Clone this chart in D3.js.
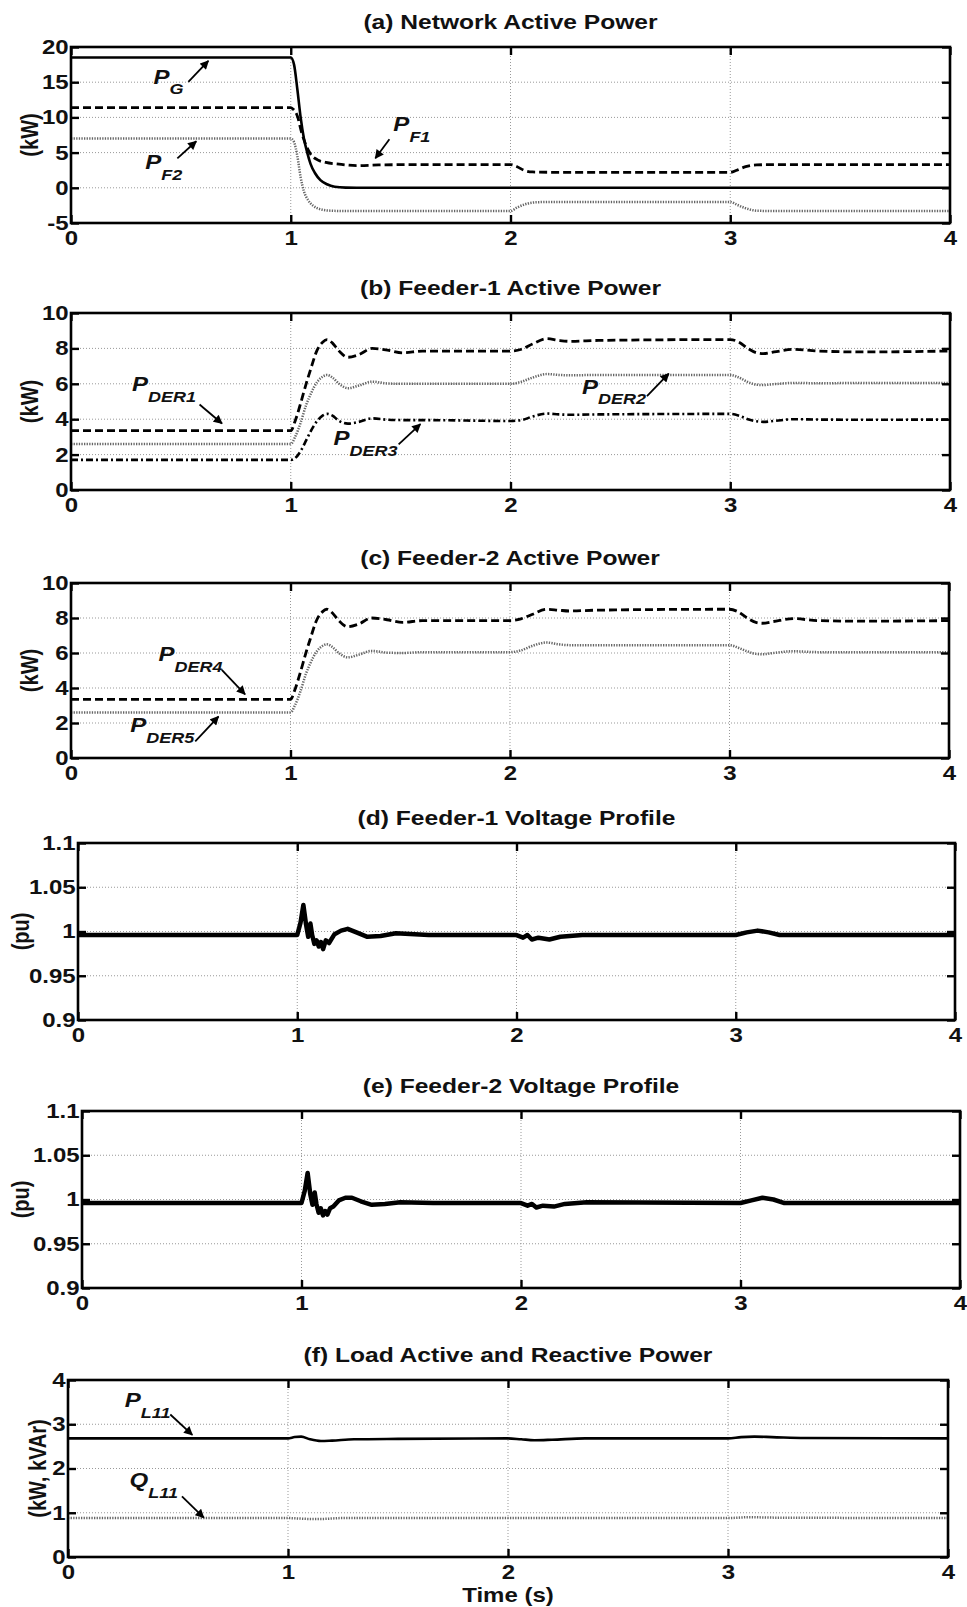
<!DOCTYPE html>
<html>
<head>
<meta charset="utf-8">
<script src="https://cdn.jsdelivr.net/npm/d3@7"></script>
<style>
  body { margin: 0; background: #fff; }
  svg { display: block; }
  text { font-family: "Liberation Sans", Arial, sans-serif; font-weight: bold; fill: #111; }
</style>
</head>
<body>
<div id="chart"></div>
<script>
// ---- values ------------------------------------------------------------
var xTicks = [0, 1, 2, 3, 4];

// (a) network active power
var tPG  = [0, 1.0, 1.015, 1.03, 1.045, 1.06, 1.075, 1.09, 1.11, 1.135, 1.165, 1.2, 1.25, 1.3, 2, 3, 4];
var vPG  = [18.5, 18.5, 17.5, 14, 10, 7, 5, 3.4, 2.1, 1.1, 0.5, 0.15, 0.02, 0, 0, 0, 0];
var tPF1 = [0, 1.0, 1.01, 1.03, 1.05, 1.07, 1.09, 1.12, 1.16, 1.22, 1.3, 1.4, 1.6, 2.0, 2.03, 2.06, 2.1, 2.2, 3.0, 3.03, 3.07, 3.12, 3.2, 4];
var vPF1 = [11.4, 11.4, 11.2, 10.2, 7.8, 6.0, 4.8, 4.0, 3.6, 3.35, 3.15, 3.25, 3.3, 3.3, 3.0, 2.5, 2.25, 2.2, 2.2, 2.5, 3.0, 3.25, 3.3, 3.3];
var tPF2 = [0, 1.0, 1.015, 1.03, 1.045, 1.06, 1.08, 1.1, 1.13, 1.18, 1.25, 2.0, 2.03, 2.07, 2.12, 2.2, 3.0, 3.03, 3.07, 3.12, 3.2, 4];
var vPF2 = [7.0, 7.0, 6.5, 4.5, 1.5, -0.5, -1.8, -2.5, -3.0, -3.25, -3.3, -3.3, -2.8, -2.3, -2.05, -2.0, -2.0, -2.4, -2.9, -3.25, -3.3, -3.3];

// (b) feeder-1 active power
var tDER  = [0, 1.0, 1.02, 1.045, 1.07, 1.09, 1.12, 1.145, 1.165, 1.19, 1.22, 1.26, 1.31, 1.37, 1.44, 1.51, 1.6, 2.0, 2.05, 2.1, 2.166, 2.22, 2.27, 2.4, 3.0, 3.04, 3.08, 3.12, 3.15, 3.2, 3.29, 3.4, 3.6, 4];
var vDER1 = [3.35, 3.35, 3.9, 4.9, 6.0, 6.8, 7.9, 8.35, 8.5, 8.3, 7.85, 7.5, 7.65, 8.0, 7.9, 7.75, 7.85, 7.85, 7.95, 8.25, 8.55, 8.45, 8.4, 8.45, 8.5, 8.35, 8.0, 7.75, 7.7, 7.8, 7.95, 7.85, 7.8, 7.85];
var vDER2 = [2.6, 2.6, 3.0, 3.8, 4.8, 5.4, 6.1, 6.4, 6.5, 6.35, 6.0, 5.75, 5.9, 6.12, 6.02, 6.0, 6.0, 6.0, 6.12, 6.35, 6.55, 6.5, 6.48, 6.5, 6.5, 6.35, 6.1, 5.95, 5.93, 5.98, 6.05, 6.03, 6.05, 6.05];
var vDER3 = [1.7, 1.7, 1.8, 2.2, 2.8, 3.3, 3.9, 4.2, 4.3, 4.2, 3.9, 3.75, 3.85, 4.05, 3.97, 3.95, 3.95, 3.9, 3.95, 4.15, 4.32, 4.27, 4.25, 4.27, 4.3, 4.2, 4.0, 3.88, 3.85, 3.9, 4.0, 3.98, 3.97, 3.98];

// (c) feeder-2 active power
var vDER4 = [3.35, 3.35, 3.9, 4.9, 6.0, 6.8, 7.9, 8.35, 8.5, 8.3, 7.85, 7.5, 7.65, 8.0, 7.9, 7.75, 7.85, 7.85, 7.95, 8.2, 8.5, 8.45, 8.4, 8.45, 8.5, 8.35, 8.0, 7.75, 7.7, 7.8, 7.97, 7.85, 7.82, 7.85];
var vDER5 = [2.6, 2.6, 3.0, 3.8, 4.8, 5.4, 6.1, 6.4, 6.5, 6.35, 6.0, 5.75, 5.9, 6.12, 6.02, 6.0, 6.05, 6.05, 6.15, 6.4, 6.6, 6.5, 6.45, 6.45, 6.45, 6.3, 6.1, 5.95, 5.93, 6.0, 6.1, 6.05, 6.05, 6.05];

// (d), (e) voltage profiles
var tV  = [0, 1.0, 1.015, 1.028, 1.04, 1.05, 1.06, 1.068, 1.078, 1.088, 1.098, 1.108, 1.118, 1.13, 1.145, 1.17, 1.2, 1.23, 1.27, 1.32, 1.38, 1.45, 1.6, 2.0, 2.03, 2.05, 2.07, 2.1, 2.15, 2.2, 2.3, 3.0, 3.05, 3.1, 3.15, 3.2, 3.3, 4];
var vV1 = [0.996, 0.996, 1.01, 1.030, 1.008, 0.994, 1.009, 0.996, 0.986, 0.99, 0.983, 0.988, 0.98, 0.99, 0.987, 0.997, 1.001, 1.003, 0.999, 0.994, 0.995, 0.998, 0.996, 0.996, 0.993, 0.996, 0.991, 0.993, 0.991, 0.994, 0.996, 0.996, 0.999, 1.001, 0.999, 0.996, 0.996, 0.996];
var vV2 = [0.996, 0.996, 1.01, 1.030, 1.006, 0.994, 1.008, 0.995, 0.985, 0.99, 0.982, 0.987, 0.983, 0.99, 0.992, 0.999, 1.002, 1.002, 0.998, 0.994, 0.995, 0.997, 0.996, 0.996, 0.993, 0.995, 0.991, 0.993, 0.992, 0.995, 0.997, 0.996, 0.999, 1.002, 1.0, 0.996, 0.996, 0.996];

// (f) load active and reactive power
var tPL = [0, 1.0, 1.03, 1.06, 1.1, 1.15, 1.2, 1.3, 1.5, 2.0, 2.06, 2.12, 2.2, 2.35, 3.0, 3.06, 3.12, 3.2, 3.35, 4];
var vPL = [2.68, 2.68, 2.71, 2.72, 2.66, 2.62, 2.63, 2.66, 2.67, 2.68, 2.66, 2.64, 2.65, 2.68, 2.68, 2.71, 2.72, 2.71, 2.69, 2.68];
var tQL = [0, 1.0, 1.05, 1.1, 1.15, 1.25, 2, 2.1, 2.2, 3, 3.1, 3.2, 4];
var vQL = [0.88, 0.88, 0.87, 0.86, 0.86, 0.88, 0.88, 0.88, 0.88, 0.88, 0.9, 0.89, 0.88];

// ---- layout / styles -----------------------------------------------------
var W = 967, H = 1607, SX = 1.2;   // the original figure is stretched sideways

var styles = {
    solid:   { stroke: "#000", width: 2.6, dash: null },
    dashed:  { stroke: "#000", width: 2.8, dash: "8,4" },
    dotted:  { stroke: "#666", width: 2.5, dash: "1.3,1.3" },
    dashdot: { stroke: "#000", width: 2.6, dash: "7,3,2,3" },
    volt:    { stroke: "#000", width: 4.5, dash: null }
};

var panels = [
    { title: "(a) Network Active Power", ylabel: "(kW)", box: [71, 950, 47, 223],
      y: [-5, 20], yTicks: [-5, 0, 5, 10, 15, 20], ylx: 30,
      series: [[tPF2, vPF2, "dotted"], [tPF1, vPF1, "dashed"], [tPG, vPG, "solid"]],
      notes: [["P", "G", 0.375, 14.76, [0.534, 15.04], [0.625, 18.04]],
              ["P", "F2", 0.338, 2.61, [0.484, 4.19], [0.57, 6.61]],
              ["P", "F1", 1.467, 8.04, [1.449, 6.9], [1.385, 4.19]]] },
    { title: "(b) Feeder-1 Active Power", ylabel: "(kW)", box: [71, 950, 313, 490],
      y: [0, 10], yTicks: [0, 2, 4, 6, 8, 10], ylx: 30,
      series: [[tDER, vDER2, "dotted"], [tDER, vDER3, "dashdot"], [tDER, vDER1, "dashed"]],
      notes: [["P", "DER1", 0.278, 5.58, [0.585, 4.83], [0.687, 3.76]],
              ["P", "DER3", 1.195, 2.54, [1.491, 2.58], [1.59, 3.72]],
              ["P", "DER2", 2.325, 5.45, [2.621, 5.3], [2.72, 6.58]]] },
    { title: "(c) Feeder-2 Active Power", ylabel: "(kW)", box: [71, 949, 583, 758],
      y: [0, 10], yTicks: [0, 2, 4, 6, 8, 10], ylx: 30,
      series: [[tDER, vDER5, "dotted"], [tDER, vDER4, "dashed"]],
      notes: [["P", "DER4", 0.399, 5.54, [0.687, 5.03], [0.793, 3.64]],
              ["P", "DER5", 0.27, 1.46, [0.566, 0.95], [0.672, 2.37]]] },
    { title: "(d) Feeder-1 Voltage Profile", ylabel: "(pu)", box: [78, 955, 843, 1020],
      y: [0.9, 1.1], yTicks: [0.9, 0.95, 1, 1.05, 1.1], ylx: 21,
      series: [[tV, vV1, "volt"]], notes: [] },
    { title: "(e) Feeder-2 Voltage Profile", ylabel: "(pu)", box: [82, 960, 1111, 1288],
      y: [0.9, 1.1], yTicks: [0.9, 0.95, 1, 1.05, 1.1], ylx: 21,
      series: [[tV, vV2, "volt"]], notes: [] },
    { title: "(f) Load Active and Reactive Power", ylabel: "(kW, kVAr)", box: [68, 948, 1380, 1557],
      y: [0, 4], yTicks: [0, 1, 2, 3, 4], ylx: 38,
      series: [[tQL, vQL, "dotted"], [tPL, vPL, "solid"]],
      notes: [["P", "L11", 0.258, 3.38, [0.465, 3.22], [0.565, 2.76]],
              ["Q", "L11", 0.28, 1.58, [0.518, 1.37], [0.617, 0.89]]] }
];

var svg = d3.select("#chart").append("svg")
    .attr("width", W)
    .attr("height", H);

svg.append("defs").append("marker")
    .attr("id", "head")
    .attr("markerUnits", "userSpaceOnUse")
    .attr("viewBox", "0 0 10 10")
    .attr("refX", 9).attr("refY", 5)
    .attr("markerWidth", 10).attr("markerHeight", 9)
    .attr("orient", "auto")
    .append("path")
    .attr("d", "M0,0 L10,5 L0,10 z")
    .attr("fill", "#000");

panels.forEach(function(p) {
    var L = p.box[0], R = p.box[1], T = p.box[2], B = p.box[3];
    var x = d3.scaleLinear().domain([0, 4]).range([L, R]);
    var y = d3.scaleLinear().domain(p.y).range([B, T]);
    var g = svg.append("g");

    // dotted grid
    g.append("g").selectAll("line")
        .data(xTicks.slice(1, -1))
        .enter().append("line")
        .attr("x1", function(d) { return x(d); }).attr("x2", function(d) { return x(d); })
        .attr("y1", T).attr("y2", B)
        .attr("stroke", "#999").attr("stroke-width", 1).attr("stroke-dasharray", "1,2");
    g.append("g").selectAll("line")
        .data(p.yTicks.slice(1, -1))
        .enter().append("line")
        .attr("y1", function(d) { return y(d); }).attr("y2", function(d) { return y(d); })
        .attr("x1", L).attr("x2", R)
        .attr("stroke", "#999").attr("stroke-width", 1).attr("stroke-dasharray", "1,2");

    // curves
    p.series.forEach(function(s) {
        var st = styles[s[2]];
        var pts = s[0].map(function(t, i) { return [t, s[1][i]]; });
        var line = d3.line()
            .x(function(d) { return x(d[0]); })
            .y(function(d) { return y(d[1]); })
            .curve(s[2] == "volt" ? d3.curveLinear : d3.curveMonotoneX);
        g.append("path")
            .attr("d", line(pts))
            .attr("fill", "none")
            .attr("stroke", st.stroke)
            .attr("stroke-width", st.width)
            .attr("stroke-dasharray", st.dash)
            .attr("stroke-linejoin", "round");
    });

    // axes, MATLAB style: inward ticks on all four sides
    var fmt = function(d) { return String(d); };
    var ax = [
        [d3.axisBottom(x).tickValues(xTicks).tickFormat(fmt).tickPadding(8), "translate(0," + B + ")"],
        [d3.axisTop(x).tickValues(xTicks).tickFormat(""), "translate(0," + T + ")"],
        [d3.axisLeft(y).tickValues(p.yTicks).tickFormat(fmt).tickPadding(2), "translate(" + L + ",0)"],
        [d3.axisRight(y).tickValues(p.yTicks).tickFormat(""), "translate(" + R + ",0)"]
    ];
    ax.forEach(function(a) {
        var ag = g.append("g")
            .attr("transform", a[1])
            .call(a[0].tickSize(-8).tickSizeOuter(0));
        ag.select(".domain").remove();
        ag.selectAll("line").attr("stroke", "#000").attr("stroke-width", 2.4);
        ag.selectAll("text")
            .attr("font-size", 20)
            .attr("font-family", null)
            .attr("transform", "scale(" + SX + ",1)");
    });

    // frame
    g.append("rect")
        .attr("x", L).attr("y", T)
        .attr("width", R - L).attr("height", B - T)
        .attr("fill", "none").attr("stroke", "#000").attr("stroke-width", 2.6);

    // title
    g.append("text")
        .attr("transform", "translate(" + ((L + R) / 2) + "," + (T - 18) + ") scale(" + SX + ",1)")
        .attr("text-anchor", "middle")
        .attr("font-size", 20.5)
        .text(p.title);

    // y label
    g.append("text")
        .attr("transform", "translate(" + p.ylx + "," + ((T + B) / 2) + ") scale(" + SX + ",1) rotate(-90)")
        .attr("text-anchor", "middle")
        .attr("dy", "0.35em")
        .attr("font-size", 20)
        .text(p.ylabel);

    // curve labels with arrows
    p.notes.forEach(function(n) {
        var lab = g.append("text")
            .attr("transform", "translate(" + x(n[2]) + "," + y(n[3]) + ") scale(" + SX + ",1)")
            .attr("font-size", 20)
            .attr("font-style", "italic");
        lab.append("tspan").text(n[0]);
        lab.append("tspan").attr("dy", 10.5).attr("font-size", 15).text(n[1]);

        g.append("line")
            .attr("x1", x(n[4][0])).attr("y1", y(n[4][1]))
            .attr("x2", x(n[5][0])).attr("y2", y(n[5][1]))
            .attr("stroke", "#000").attr("stroke-width", 1.8)
            .attr("marker-end", "url(#head)");
    });
});

// common x label
svg.append("text")
    .attr("transform", "translate(508,1602) scale(" + SX + ",1)")
    .attr("text-anchor", "middle")
    .attr("font-size", 20)
    .text("Time (s)");
</script>
</body>
</html>
